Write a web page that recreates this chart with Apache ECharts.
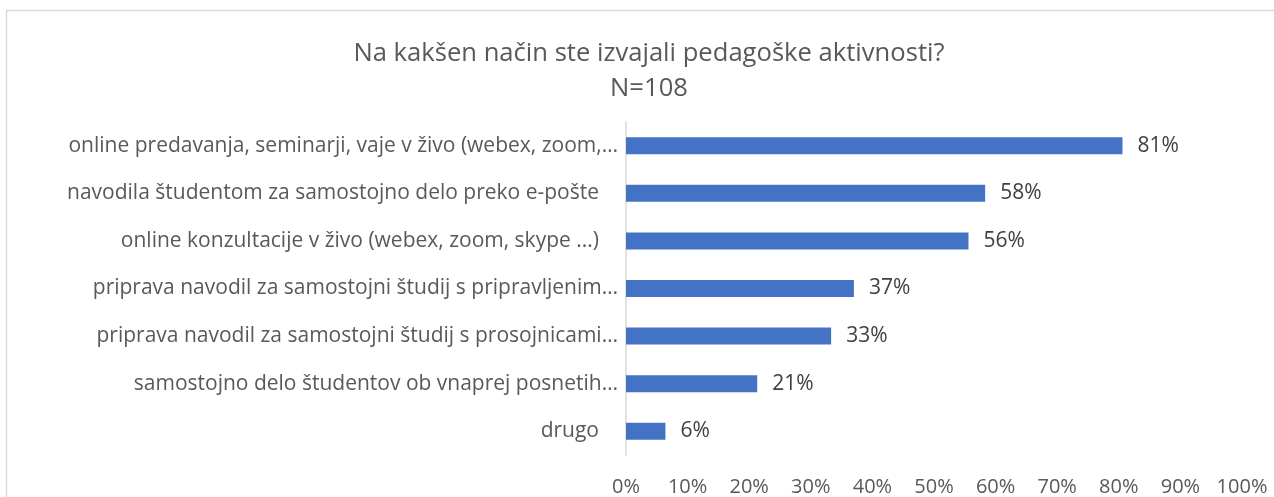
<!DOCTYPE html>
<html>
<head>
<meta charset="utf-8">
<script src="https://cdn.jsdelivr.net/npm/echarts@6/dist/echarts.min.js"></script>
<style>
  html, body { margin: 0; padding: 0; background: #fff; }
  #chart { width: 1274px; height: 497px; }
</style>
</head>
<body>
<div id="chart"></div>
<script>
const categories = [
  "online predavanja, seminarji, vaje v živo (webex, zoom,…",
  "navodila študentom za samostojno delo preko e-pošte",
  "online konzultacije v živo (webex, zoom, skype ...)",
  "priprava navodil za samostojni študij s pripravljenim…",
  "priprava navodil za samostojni študij s prosojnicami…",
  "samostojno delo študentov ob vnaprej posnetih…",
  "drugo"
];
// share of respondents (N=108), percent
const shares = [80.6, 58.3, 55.6, 37.0, 33.3, 21.3, 6.4];
const xTicks = [0, 10, 20, 30, 40, 50, 60, 70, 80, 90, 100];

const fontFamily = "'Open Sans', 'Noto Sans', sans-serif";
const chart = echarts.init(document.getElementById("chart"));

chart.setOption({
  animation: false,
  textStyle: { fontFamily: fontFamily },
  title: {
    text: "Na kakšen način ste izvajali pedagoške aktivnosti?\nN=108",
    left: 644,
    top: 31,
    textAlign: "center",
    textStyle: {
      fontFamily: fontFamily,
      fontWeight: "normal",
      fontSize: 25.6,
      lineHeight: 35,
      color: "#595959",
    },
  },
  graphic: [
    {
      type: "rect",
      shape: { x: 6.5, y: 10.5, width: 1300, height: 600 },
      style: { fill: "none", stroke: "#d9d9d9", lineWidth: 1.5 },
      silent: true,
    },
  ],
  grid: {
    left: 626,
    right: 32,
    top: 122,
    bottom: 41,
  },
  xAxis: {
    type: "value",
    min: xTicks[0],
    max: xTicks[xTicks.length - 1],
    interval: 10,
    axisLine: { show: false },
    axisTick: { show: false },
    splitLine: { show: false },
    axisLabel: {
      margin: 22,
      fontSize: 20,
      color: "#595959",
      formatter: "{value}%",
    },
  },
  yAxis: {
    type: "category",
    inverse: true,
    data: categories,
    axisLine: { show: true, lineStyle: { color: "#d9d9d9", width: 1.5 } },
    axisTick: { show: false },
    axisLabel: {
      margin: 8,
      fontSize: 21,
      color: "#595959",
      // labels that were not cut short sit a bit further from the axis
      formatter: (v) => (v.endsWith("…") ? "{a|" + v + "}" : "{b|" + v + "}"),
      rich: {
        a: { fontSize: 21, color: "#595959", fontFamily: fontFamily },
        b: { fontSize: 21, color: "#595959", fontFamily: fontFamily, padding: [0, 19, 0, 0] },
      },
    },
  },
  series: [
    {
      type: "bar",
      data: shares,
      barWidth: 17,
      itemStyle: { color: "#4472c4" },
      label: {
        show: true,
        position: "right",
        distance: 15,
        fontSize: 21,
        color: "#404040",
        formatter: (p) => Math.round(p.value) + "%",
      },
    },
  ],
});
</script>
</body>
</html>
